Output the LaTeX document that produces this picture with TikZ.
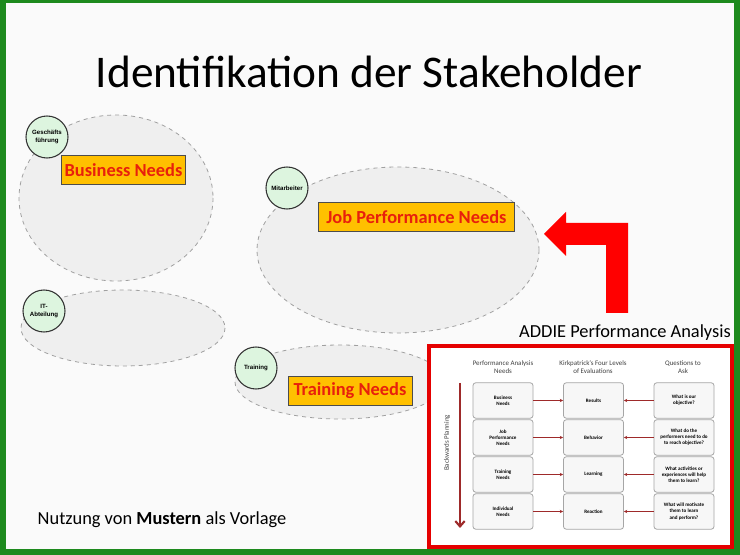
\documentclass[tikz,border=0pt]{standalone}
\usepackage{fontspec}
\setmainfont{Carlito}
\newfontfamily\arialf{Liberation Sans}
\usetikzlibrary{arrows.meta}
\definecolor{frameg}{HTML}{1E8A1E}
\definecolor{ellfill}{HTML}{EFEFEF}
\definecolor{ellline}{HTML}{A0A0A0}
\definecolor{circfill}{HTML}{DDF5DF}
\definecolor{needorange}{HTML}{FFC000}
\definecolor{needred}{HTML}{E8200C}
\definecolor{darkred}{HTML}{9E2A2A}
\tikzset{
  x=0.75pt,y=-0.75pt,
  ell/.style={draw=ellline,fill=ellfill,dashed,line width=0.6pt},
  stake/.style={circle,draw=black!80,fill=circfill,line width=0.8pt,minimum size=31.5pt,inner sep=0pt,align=center,font=\arialf\fontsize{4.6}{5.4}\selectfont\bfseries},
  need/.style={draw=black!70,fill=needorange,text=needred,font=\fontsize{13.8}{15}\selectfont\bfseries,inner sep=2pt,minimum height=22pt},
  tbox/.style={draw=black!35,fill=black!3,rounded corners=2pt,line width=0.6pt,minimum width=45pt,minimum height=26.5pt,align=center,font=\fontsize{3.8}{4.6}\selectfont\bfseries,inner sep=1pt},
  thead/.style={align=center,font=\fontsize{5.2}{6.2}\selectfont,text=black!75},
  tarr/.style={darkred,line width=0.5pt,-{Stealth[length=2.5pt,width=2.5pt]}}
}
\begin{document}
\begin{tikzpicture}
\useasboundingbox (0,0) rectangle (740,555);
\fill[frameg] (0,0) rectangle (740,555);
\fill[white!98!black] (6,3) rectangle (734,549);
\node[font=\fontsize{34}{40}\selectfont] (title) at (369,72) {Identifikation der Stakeholder};
% ellipses
\draw[ell] (116,198) ellipse [x radius=97, y radius=83];
\draw[ell] (123,328) ellipse [x radius=102, y radius=38];
\draw[ell] (398,250) ellipse [x radius=141, y radius=83];
\draw[ell] (340,382) ellipse [x radius=105, y radius=37];
% stakeholders
\node[stake] (gf) at (47,137) {Geschäfts\\führung};
\node[stake] (ma) at (287,188) {Mitarbeiter};
\node[stake] (it) at (44,311) {IT-\\Abteilung};
\node[stake] (tr) at (256,368) {Training};
% needs
\node[need,minimum width=93pt] (bn) at (123.5,170) {Business Needs};
\node[need,minimum width=147pt] (jn) at (416.5,217) {Job Performance Needs};
\node[need,minimum width=93pt] (tn) at (350,391) {Training Needs};
% red arrow
\fill[red] (544,234) -- (566,212) -- (566,223) -- (628,223) -- (628,313) -- (606,313) -- (606,245) -- (566,245) -- (566,256) -- cycle;
\node[font=\fontsize{13.8}{15}\selectfont,anchor=base] (addie) at (625,338) {ADDIE Performance Analysis};
% table
\draw[red!90!black,line width=3pt,fill=white] (429,346) rectangle (732,547);
\node[thead] (h1) at (503,367) {Performance Analysis\\Needs};
\node[thead] (h2) at (593,367) {Kirkpatrick's Four Levels\\of Evaluations};
\node[thead] (h3) at (683,367) {Questions to\\Ask};
\foreach \i/\y/\a/\b/\c in {1/400.5/{Business\\Needs}/Results/{What is our\\objective?},
  2/437.5/{Job\\Performance\\Needs}/Behavior/{What do the\\performers need to do\\to reach objective?},
  3/474.5/{Training\\Needs}/Learning/{What activities or\\experiences will help\\them to learn?},
  4/511.5/{Individual\\Needs}/Reaction/{What will motivate\\them to learn\\and perform?}}{
  \node[tbox] (a\i) at (503,\y) {\a};
  \node[tbox] (b\i) at (593.5,\y) {\b};
  \node[tbox] (c\i) at (684,\y) {\c};
  \draw[tarr] (a\i) -- (b\i);
  \draw[tarr] (c\i) -- (b\i);
}
\coordinate (bpt) at (460,383);
\coordinate (bpb) at (460,528);
\draw[darkred,line width=1.6pt,-{Straight Barb[length=4pt,width=7pt]}] (bpt) -- (bpb);
\node[rotate=90,font=\fontsize{5.2}{6}\selectfont,text=black!75] (bp) at (447,443) {Backwards Planning};
% footer
\node[anchor=base west,font=\fontsize{13.8}{15}\selectfont] (foot) at (33,525) {Nutzung von \textbf{Mustern} als Vorlage};
\end{tikzpicture}
\end{document}
